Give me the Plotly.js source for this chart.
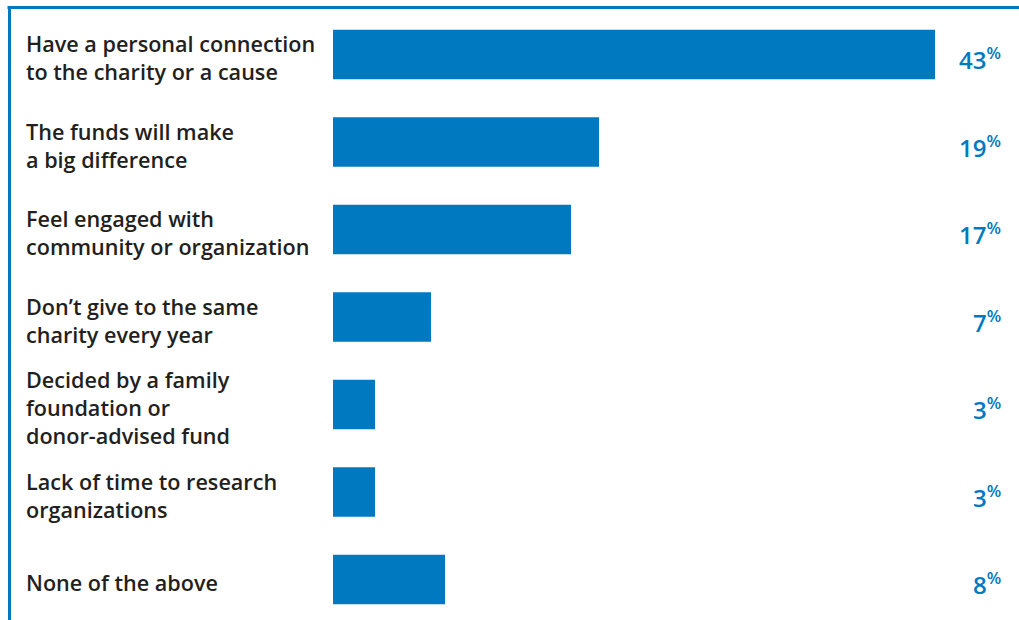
<!DOCTYPE html>
<html>
<head>
<meta charset="utf-8">
<script src="https://cdn.plot.ly/plotly-3.0.1.min.js"></script>
<style>html,body{margin:0;padding:0;background:#fff;}#chart{width:1019px;height:620px;}</style>
</head>
<body>
<div id="chart"></div>
<script>
const categories = [
  "Have a personal connection<br>to the charity or a cause",
  "The funds will make<br>a big difference",
  "Feel engaged with<br>community or organization",
  "Don’t give to the same<br>charity every year",
  "Decided by a family<br>foundation or<br>donor-advised fund",
  "Lack of time to research<br>organizations",
  "None of the above"
];
const values = [43, 19, 17, 7, 3, 3, 8];
const valueLabels = values.map(v => v + "<sup>%</sup>");

const W = 1019, H = 620;
const blue = "#0079C1";
const textColor = "#231F20";
const idx = categories.map((c, i) => i);

const annotations = [];
categories.forEach((c, i) => {
  annotations.push({
    xref: "paper", yref: "y", x: 24 / W, y: i, xanchor: "left", yanchor: "middle",
    text: c, showarrow: false, align: "left", yshift: -3,
    font: {family: "Open Sans, sans-serif", size: 21.6, color: textColor, weight: 600}
  });
  annotations.push({
    xref: "paper", yref: "y", x: 1003 / W, y: i, xanchor: "right", yanchor: "middle",
    text: valueLabels[i], showarrow: false, align: "right", yshift: -4,
    font: {family: "Open Sans, sans-serif", size: 24, color: blue, weight: 600}
  });
});

const data = [{
  type: "bar", orientation: "h",
  x: values, y: idx,
  marker: {color: blue},
  width: 0.566,
  hoverinfo: "none"
}];

const layout = {
  width: W, height: H,
  margin: {l: 0, r: 0, t: 0, b: 0},
  paper_bgcolor: "#fff", plot_bgcolor: "#fff",
  showlegend: false,
  xaxis: {domain: [333 / W, 1], range: [0, 49], visible: false, fixedrange: true},
  yaxis: {range: [6 + 40.5 / 87.5, -54.5 / 87.5], visible: false, fixedrange: true},
  annotations: annotations,
  shapes: [
    {type: "line", xref: "paper", yref: "paper", x0: 7.5 / W, x1: 1, y0: 1 - 7.5 / H, y1: 1 - 7.5 / H, line: {color: blue, width: 3}},
    {type: "line", xref: "paper", yref: "paper", x0: 9.5 / W, x1: 9.5 / W, y0: 0, y1: 1 - 6 / H, line: {color: blue, width: 3}}
  ]
};

Plotly.newPlot("chart", data, layout, {displayModeBar: false});
</script>
</body>
</html>
